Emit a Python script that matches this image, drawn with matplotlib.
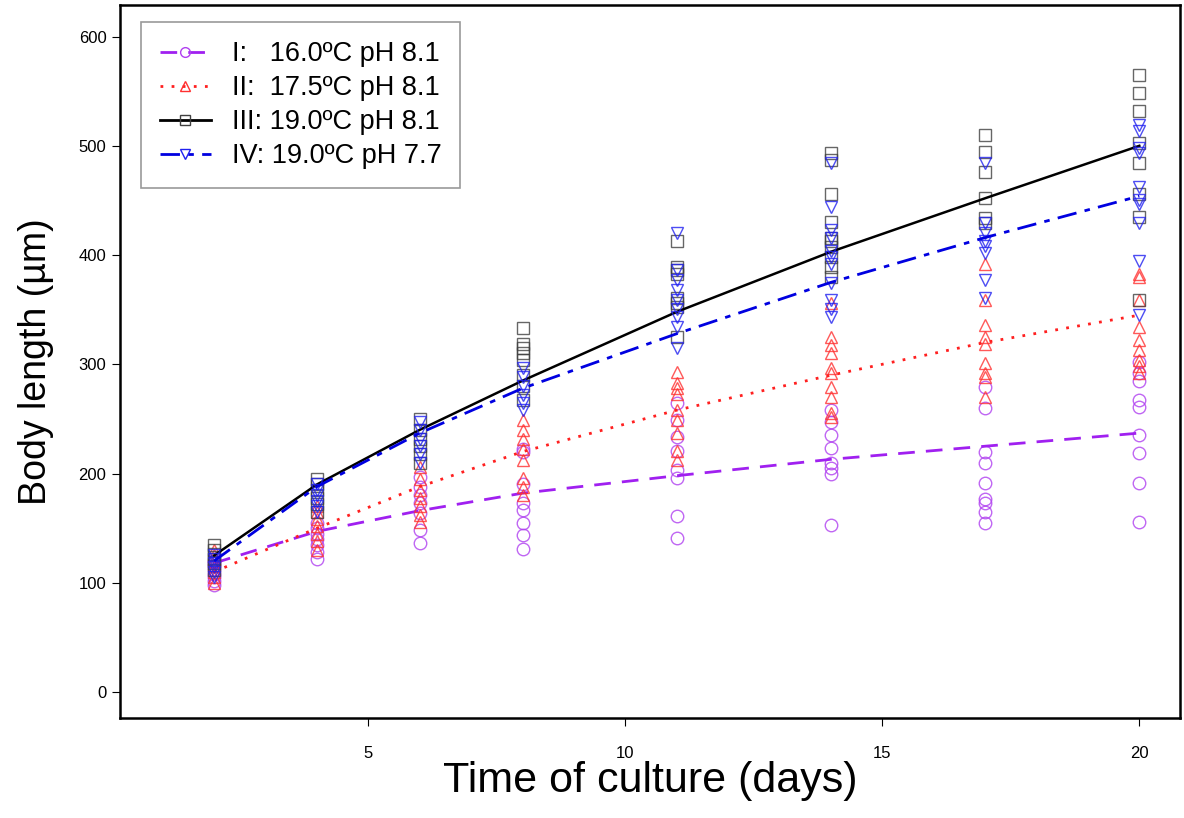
import numpy as np
import matplotlib
matplotlib.use('Agg')
import matplotlib.pyplot as plt

plt.rcParams['font.family'] = ['Liberation Sans', 'DejaVu Sans']

days = [2, 4, 6, 8, 11, 14, 17, 20]

# fitted curves, read at each sampling day
fit_I = [118, 147, 166, 182, 198, 213, 225, 237]
fit_II = [110, 150, 188, 220, 258, 290, 320, 345]
fit_III = [125, 190, 240, 285, 348, 403, 452, 500]
fit_IV = [120, 188, 237, 278, 328, 375, 416, 454]

# individual measurements per day
obs_I = {
    2: [98, 102, 105, 108, 112, 115, 118, 120],
    4: [122, 128, 135, 140, 145, 150, 155],
    6: [136, 148, 164, 173, 180, 188, 197],
    8: [131, 144, 155, 167, 173, 190, 220, 222],
    11: [141, 161, 196, 203, 221, 233, 249, 265],
    14: [153, 200, 205, 210, 223, 235, 247, 258],
    17: [155, 165, 173, 177, 191, 210, 220, 260, 279],
    20: [156, 191, 219, 235, 261, 267, 285, 292, 302],
}
obs_II = {
    2: [100, 105, 110, 115, 120, 125, 130],
    4: [130, 138, 145, 152, 158, 165, 170],
    6: [156, 162, 170, 178, 185, 195, 206],
    8: [180, 188, 196, 212, 222, 232, 240, 249],
    11: [212, 221, 237, 249, 258, 273, 278, 283, 293],
    14: [252, 255, 270, 279, 292, 297, 310, 318, 325, 356],
    17: [270, 288, 292, 301, 319, 325, 336, 359, 392],
    20: [292, 298, 304, 313, 322, 334, 359, 380, 383],
}
obs_III = {
    2: [112, 118, 122, 126, 130, 135],
    4: [165, 172, 178, 185, 190, 195],
    6: [210, 218, 225, 232, 240, 250],
    8: [267, 280, 290, 304, 310, 315, 319, 333],
    11: [325, 352, 356, 361, 383, 386, 389, 413],
    14: [380, 389, 398, 407, 413, 416, 430, 456, 487, 493],
    17: [429, 434, 452, 476, 494, 510],
    20: [359, 435, 456, 484, 503, 532, 548, 565],
}
obs_IV = {
    2: [105, 110, 114, 118, 122, 125],
    4: [165, 170, 175, 180, 185, 190],
    6: [210, 218, 225, 232, 240, 247],
    8: [258, 265, 272, 280, 288, 297],
    11: [315, 334, 343, 351, 359, 368, 377, 386, 420],
    14: [343, 351, 359, 374, 392, 398, 404, 416, 423, 444, 484],
    17: [361, 377, 402, 408, 413, 420, 429, 484],
    20: [345, 395, 429, 447, 450, 462, 493, 498, 514, 519],
}

labels = ['I:   16.0\u00baC pH 8.1', 'II:  17.5\u00baC pH 8.1',
          'III: 19.0\u00baC pH 8.1', 'IV: 19.0\u00baC pH 7.7']
groups = [
    (obs_I, fit_I, '#B040F0', '#A020F0', 'o', (0, (6, 4))),
    (obs_II, fit_II, '#FF3030', '#FF2020', '^', (0, (1, 3))),
    (obs_III, fit_III, '#404040', 'black', 's', '-'),
    (obs_IV, fit_IV, '#2020F0', '#0000E0', 'v', (0, (7, 3, 2, 3))),
]

fig = plt.figure(figsize=(11.84, 8.18), dpi=100)
ax = fig.add_axes([0.101, 0.122, 0.896, 0.872])

for (obs, fit, mcol, lcol, mk, ls), lab in zip(groups, labels):
    for d in days:
        ys = obs[d]
        ax.plot([d] * len(ys), ys, linestyle='none', marker=mk, markersize=9,
                markerfacecolor='none', markeredgecolor=mcol, markeredgewidth=1.0,
                alpha=0.8)
    ax.plot(days, fit, color=lcol, linestyle=ls, linewidth=2.0 if ls != '-' else 1.8)

# legend proxies with marker in the middle
proxies = []
for (obs, fit, mcol, lcol, mk, ls) in groups:
    p, = ax.plot([], [], color=lcol, linestyle=ls, linewidth=2.0, marker=mk, markersize=7,
                 markerfacecolor='none', markeredgecolor=mcol)
    proxies.append(p)
leg = ax.legend(proxies, labels, loc='upper left', bbox_to_anchor=(0.02, 0.976),
                borderaxespad=0, fontsize=19.5, frameon=True, fancybox=False,
                edgecolor='#808080', handlelength=1.9, handletextpad=0.75,
                borderpad=0.7, labelspacing=0.3, numpoints=1)
leg.get_frame().set_linewidth(1.2)

ax.set_xlim(0.16, 20.8)
ax.set_ylim(-24, 629)
ax.set_xticks([5, 10, 15, 20])
ax.set_yticks([0, 100, 200, 300, 400, 500, 600])
ax.tick_params(axis='both', labelsize=12, direction='out', length=6, width=0.8)
ax.tick_params(axis='x', pad=14)
for s in ax.spines.values():
    s.set_linewidth(1.8)

ax.set_xlabel('Time of culture (days)', fontsize=31, labelpad=0)
ax.set_ylabel('Body length (\u00b5m)', fontsize=27, labelpad=18)

fig.savefig('out.png', dpi=100)
